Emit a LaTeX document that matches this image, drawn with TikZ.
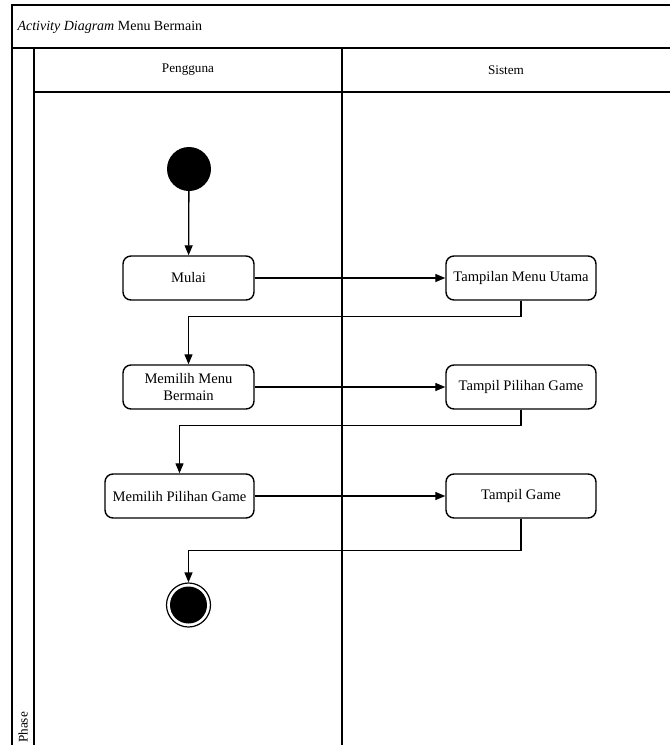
\documentclass[tikz,border=0pt]{standalone}
\usepackage{fontspec}
\setmainfont{Liberation Serif}
\usetikzlibrary{arrows.meta,calc}
\tikzstyle{aktivitas}=[rectangle, rounded corners=8pt, draw, line width=1.4pt, minimum height=44pt, inner sep=2pt, align=center, font=\fontsize{14.6}{16.5}\selectfont]
\tikzstyle{lajur}=[font=\fontsize{13.2}{15}\selectfont]

\begin{document}
\begin{tikzpicture}[x=1pt,y=-1pt,alur/.style={-{Triangle[length=10pt,width=8pt]},line width=1.3pt},garis/.style={line width=1.8pt}]
\useasboundingbox[fill=white] (0,0) rectangle (670,745);
% bingkai dan lajur
\draw[garis] (12,745) -- (12,5) -- (670,5);
\draw[garis] (12,48) -- (670,48);
\draw[garis] (34,745) -- (34,48);
\draw[garis] (34,92) -- (670,92);
\draw[garis] (342,48) -- (342,745);
\node[anchor=west,font=\fontsize{14}{16}\selectfont] (judul) at (14,27) {\textit{Activity Diagram} Menu Bermain};
\node[lajur] (pengguna) at (188,70) {Pengguna};
\node[lajur] (sistem) at (506,70) {Sistem};
\node[lajur,rotate=90,anchor=west,inner sep=0pt] (fase) at (23,743) {Phase};
% simpul
\node (awal) at (189,169)[circle,fill=black,minimum size=44pt,inner sep=0pt] {};
\node (mulai) at (188.5,278)[aktivitas,minimum width=131pt] {Mulai};
\node (tmu) at (521,278)[aktivitas,minimum width=150pt] {Tampilan Menu Utama};
\node (menu) at (188.5,387)[aktivitas,minimum width=131pt] {Memilih Menu\\Bermain};
\node (tpg) at (521,387)[aktivitas,minimum width=150pt] {Tampil Pilihan Game};
\node (mpg) at (179.5,496)[aktivitas,minimum width=149pt] {Memilih Pilihan Game};
\node (tg) at (521,496)[aktivitas,minimum width=150pt] {Tampil Game};
\node (akhir) at (188.5,605)[circle,draw,line width=1.2pt,minimum size=44pt,inner sep=0pt,path picture={\fill (path picture bounding box.center) circle (18.5pt);}] {};
% alur
\draw[alur] (awal) -- (mulai);
\draw[alur] (mulai) -- (tmu);
\draw[alur] (tmu.south) -- ++(0,16) -| (menu.north);
\draw[alur] (menu) -- (tpg);
\draw[alur] (tpg.south) -- ++(0,16) -| (mpg.north);
\draw[alur] (mpg) -- (tg);
\draw[alur] (tg.south) -- ++(0,32) -| (akhir.north);
\end{tikzpicture}
\end{document}
